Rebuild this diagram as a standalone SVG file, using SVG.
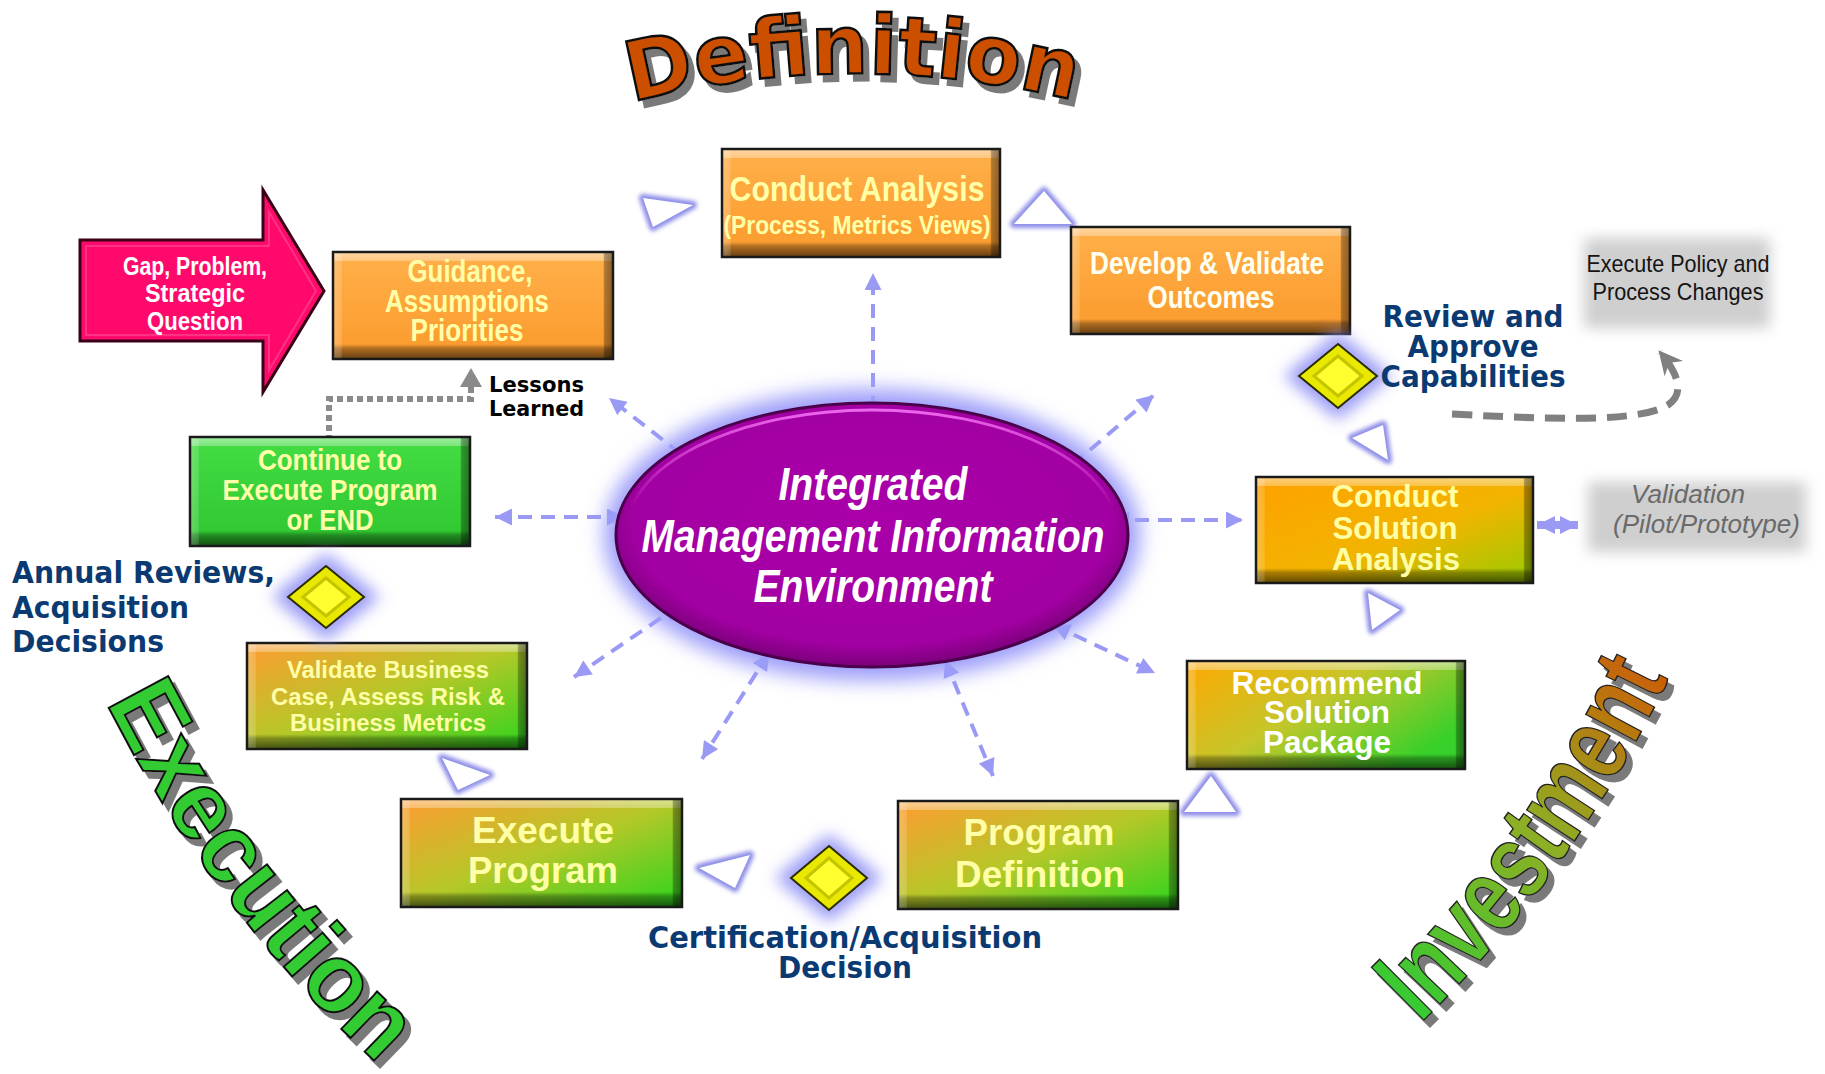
<svg xmlns="http://www.w3.org/2000/svg" xmlns:xlink="http://www.w3.org/1999/xlink" width="1825" height="1074" viewBox="0 0 1825 1074">
<defs>
<style>
.lbl{font-family:"Liberation Sans Narrow","Liberation Sans",Arial,sans-serif;font-weight:bold;text-anchor:middle}
.arl{font-family:"Liberation Sans",Arial,sans-serif;font-weight:bold;text-anchor:middle}
.cream{fill:#ffffa8}
.white{fill:#ffffff}
.navy{font-family:"DejaVu Sans",Verdana,sans-serif;font-weight:bold;fill:#0b3a73}
.edge{fill:none;stroke:#1a1a1a;stroke-width:2.5}
.bv{fill:url(#bevV)}
.bh{fill:url(#bevH)}
.conn{fill:none;stroke:#9a9af5;stroke-width:4;stroke-dasharray:14 9;marker-start:url(#ah);marker-end:url(#ah)}
.triGlow{fill:none;stroke:#8c8ce8;stroke-width:8;stroke-linejoin:round;filter:url(#blur2)}
.triFill{fill:#ffffff}
.dGlow{fill:#9b9bf7;filter:url(#blur8)}
.dOut{fill:#e8e800;stroke:#2a2a00;stroke-width:2}
.dIn{fill:#ffff30;stroke:#c4c400;stroke-width:3}
.grey{fill:#cfcfcf;filter:url(#blur7)}
</style>
<filter id="blur2" x="-50%" y="-50%" width="200%" height="200%"><feGaussianBlur stdDeviation="2"/></filter>
<filter id="blur7" x="-50%" y="-50%" width="200%" height="200%"><feGaussianBlur stdDeviation="7"/></filter>
<filter id="blur8" x="-50%" y="-50%" width="200%" height="200%"><feGaussianBlur stdDeviation="8"/></filter>
<filter id="blur10" x="-50%" y="-50%" width="200%" height="200%"><feGaussianBlur stdDeviation="10"/></filter>
<filter id="shadow" x="-15%" y="-15%" width="140%" height="140%">
<feFlood flood-color="#7a7a7a"/><feComposite in2="SourceAlpha" operator="in"/><feOffset dx="6" dy="7" result="s"/>
<feMerge><feMergeNode in="s"/><feMergeNode in="SourceGraphic"/></feMerge>
</filter>
<linearGradient id="gOrange" x1="0" y1="0" x2="0" y2="1"><stop offset="0" stop-color="#ffb04a"/><stop offset="1" stop-color="#fb9a2c"/></linearGradient>
<linearGradient id="gGreen" x1="0" y1="0" x2="0" y2="1"><stop offset="0" stop-color="#44dd44"/><stop offset="1" stop-color="#2fc62f"/></linearGradient>
<linearGradient id="gMix" x1="0" y1="0" x2="1" y2="1"><stop offset="0" stop-color="#ff9c30"/><stop offset=".5" stop-color="#b4c828"/><stop offset="1" stop-color="#2cd41c"/></linearGradient>
<linearGradient id="gCSA" x1="0" y1="0" x2="1" y2="1"><stop offset="0" stop-color="#ffa000"/><stop offset=".55" stop-color="#f2b400"/><stop offset="1" stop-color="#98cc00"/></linearGradient>
<linearGradient id="gRSP" x1="0" y1="0" x2="1" y2=".6"><stop offset="0" stop-color="#ffa800"/><stop offset=".5" stop-color="#c6c62a"/><stop offset="1" stop-color="#38d02a"/></linearGradient>
<linearGradient id="bevV" x1="0" y1="0" x2="0" y2="1">
<stop offset="0" stop-color="#fff" stop-opacity=".5"/><stop offset=".08" stop-color="#fff" stop-opacity=".3"/><stop offset=".085" stop-color="#fff" stop-opacity="0"/>
<stop offset=".86" stop-color="#000" stop-opacity="0"/><stop offset=".9" stop-color="#000" stop-opacity=".3"/><stop offset="1" stop-color="#000" stop-opacity=".6"/>
</linearGradient>
<linearGradient id="bevH" x1="0" y1="0" x2="1" y2="0">
<stop offset="0" stop-color="#fff" stop-opacity=".25"/><stop offset=".03" stop-color="#fff" stop-opacity=".15"/><stop offset=".032" stop-color="#fff" stop-opacity="0"/>
<stop offset=".965" stop-color="#000" stop-opacity="0"/><stop offset=".97" stop-color="#000" stop-opacity=".3"/><stop offset="1" stop-color="#000" stop-opacity=".45"/>
</linearGradient>
<radialGradient id="gPurple" cx=".5" cy=".45" r=".55"><stop offset="0" stop-color="#aa00aa"/><stop offset=".85" stop-color="#a200a2"/><stop offset="1" stop-color="#7a007a"/></radialGradient>
<linearGradient id="gHl" x1="0" y1="0" x2="0" y2="1"><stop offset="0" stop-color="#ee66ee"/><stop offset=".4" stop-color="#ee66ee" stop-opacity="0"/></linearGradient>
<linearGradient id="gInv" gradientUnits="userSpaceOnUse" x1="1400" y1="1010" x2="1660" y2="640"><stop offset="0" stop-color="#33cc33"/><stop offset=".5" stop-color="#8fae25"/><stop offset="1" stop-color="#d35400"/></linearGradient>
<marker id="ah" viewBox="0 0 10 10" refX="10" refY="5" markerWidth="18" markerHeight="17" markerUnits="userSpaceOnUse" orient="auto-start-reverse"><path d="M0,0 L10,5 L0,10 z" fill="#9a9af5"/></marker>
<marker id="ahv" viewBox="0 0 10 10" refX="10" refY="5" markerWidth="18" markerHeight="26" markerUnits="userSpaceOnUse" orient="auto-start-reverse"><path d="M0,0 L10,5 L0,10 z" fill="#9a9af5"/></marker>
<marker id="ahg" viewBox="0 0 10 10" refX="9" refY="5" markerWidth="26" markerHeight="24" markerUnits="userSpaceOnUse" orient="auto"><path d="M0,0 L10,5 L0,10 L3,5 z" fill="#808080"/></marker>
<path id="arcDef" d="M632,102 A900 900 0 0 1 1080,102"/>
<path id="arcInv" d="M1420,1024 A1234 1234 0 0 0 1668,680"/>
<path id="arcExe" d="M106,702 A1276 1276 0 0 0 382,1068"/>
</defs>
<rect width="1825" height="1074" fill="#ffffff"/>

<!-- Phase titles -->
<g id="title-definition" filter="url(#shadow)">
<text font-family="DejaVu Sans,Verdana,sans-serif" font-weight="bold" font-size="82" fill="#cc5000" stroke="#111" stroke-width="2.5"><textPath xlink:href="#arcDef" textLength="446" lengthAdjust="spacingAndGlyphs">Definition</textPath></text>
</g>
<g id="title-investment" filter="url(#shadow)">
<text font-family="Liberation Sans,Arial,sans-serif" font-weight="bold" font-size="108" fill="url(#gInv)" stroke="#222" stroke-width="1.5"><textPath xlink:href="#arcInv" textLength="428" lengthAdjust="spacingAndGlyphs">Investment</textPath></text>
</g>
<g id="title-execution" filter="url(#shadow)">
<text font-family="Liberation Sans,Arial,sans-serif" font-weight="bold" font-size="98" fill="#33cc33" stroke="#111" stroke-width="2"><textPath xlink:href="#arcExe" textLength="456" lengthAdjust="spacingAndGlyphs">Execution</textPath></text>
</g>

<!-- Connectors -->
<g id="connectors">
<path class="conn" d="M873,433 L873,273"/>
<path class="conn" d="M699,468 L609,398"/>
<path class="conn" d="M1055,480 L1154,395"/>
<path class="conn" d="M624,517 L495,517"/>
<path class="conn" d="M1112,520 L1243,520"/>
<path class="conn" d="M680,605 L574,677"/>
<path class="conn" d="M769,653 L702,759"/>
<path class="conn" d="M945,660 L993,776"/>
<path class="conn" d="M1053,625 L1155,673"/>
<path d="M1537,525 L1578,525" fill="none" stroke="#9a9af5" stroke-width="8" marker-start="url(#ahv)" marker-end="url(#ahv)"/>
<path d="M1452,414 C1560,420 1640,422 1668,405 C1684,394 1680,376 1660,352" fill="none" stroke="#808080" stroke-width="7" stroke-dasharray="20 11" marker-end="url(#ahg)"/>
<path d="M471,387 L471,399 L329,399 L329,437" fill="none" stroke="#8a8a8a" stroke-width="6" stroke-dasharray="6 4"/>
<polygon points="460,387 471,368 482,387" fill="#8a8a8a"/>
<g id="flow-triangles">
<polygon class="triGlow" points="643,198 693,205 653,227"/><polygon class="triFill" points="643,198 693,205 653,227"/>
<polygon class="triGlow" points="1014,224 1044,191 1072,224"/><polygon class="triFill" points="1014,224 1044,191 1072,224"/>
<polygon class="triGlow" points="1352,438 1383,425 1388,460"/><polygon class="triFill" points="1352,438 1383,425 1388,460"/>
<polygon class="triGlow" points="1368,593 1400,610 1372,630"/><polygon class="triFill" points="1368,593 1400,610 1372,630"/>
<polygon class="triGlow" points="1184,812 1211,776 1236,812"/><polygon class="triFill" points="1184,812 1211,776 1236,812"/>
<polygon class="triGlow" points="699,868 750,855 735,888"/><polygon class="triFill" points="699,868 750,855 735,888"/>
<polygon class="triGlow" points="442,758 490,775 458,790"/><polygon class="triFill" points="442,758 490,775 458,790"/>
</g>
</g>

<!-- Central ellipse -->
<g id="n-imie">
<ellipse cx="872" cy="535" rx="268" ry="146" fill="#9d9dfa" filter="url(#blur10)"/>
<ellipse cx="872" cy="535" rx="256" ry="132" fill="url(#gPurple)" stroke="#4a004a" stroke-width="3"/>
<ellipse cx="872" cy="533" rx="246" ry="123" fill="none" stroke="url(#gHl)" stroke-width="3"/>
<g class="lbl" font-style="italic" font-size="47" fill="#ffffff">
<text x="873" y="500" textLength="189" lengthAdjust="spacingAndGlyphs">Integrated</text>
<text x="873" y="552" textLength="463" lengthAdjust="spacingAndGlyphs">Management Information</text>
<text x="873" y="602" textLength="239" lengthAdjust="spacingAndGlyphs">Environment</text>
</g>
</g>

<!-- Gap arrow -->
<g id="n-gap">
<polygon points="80,240 263,240 263,190 324,291 263,392 263,341 80,341" fill="#ff0a6c" stroke="#3a0016" stroke-width="3" stroke-linejoin="miter"/>
<polygon points="86,246 269,246 269,212 316,291 269,370 269,335 86,335" fill="none" stroke="#ff5a9a" stroke-width="2" opacity=".5"/>
<g class="lbl white" font-size="26">
<text x="195" y="275" textLength="144" lengthAdjust="spacingAndGlyphs">Gap, Problem,</text>
<text x="195" y="302" textLength="100" lengthAdjust="spacingAndGlyphs">Strategic</text>
<text x="195" y="330" textLength="96" lengthAdjust="spacingAndGlyphs">Question</text>
</g>
</g>

<!-- Boxes -->
<g id="n-guidance">
<rect x="333" y="252" width="280" height="107" fill="url(#gOrange)"/><rect class="bv" x="333" y="252" width="280" height="107"/><rect class="bh" x="333" y="252" width="280" height="107"/><rect class="edge" x="333" y="252" width="280" height="107"/>
<g class="lbl cream" font-size="31">
<text x="470" y="282" textLength="125" lengthAdjust="spacingAndGlyphs">Guidance,</text>
<text x="467" y="312" textLength="164" lengthAdjust="spacingAndGlyphs">Assumptions</text>
<text x="467" y="341" textLength="113" lengthAdjust="spacingAndGlyphs">Priorities</text>
</g>
</g>

<g id="n-conduct-analysis">
<rect x="722" y="149" width="278" height="108" fill="url(#gOrange)"/><rect class="bv" x="722" y="149" width="278" height="108"/><rect class="bh" x="722" y="149" width="278" height="108"/><rect class="edge" x="722" y="149" width="278" height="108"/>
<g class="lbl cream">
<text x="857" y="201" font-size="35" textLength="255" lengthAdjust="spacingAndGlyphs">Conduct Analysis</text>
<text x="857" y="234" font-size="26" textLength="267" lengthAdjust="spacingAndGlyphs">(Process, Metrics Views)</text>
</g>
</g>

<g id="n-develop">
<rect x="1071" y="227" width="279" height="107" fill="url(#gOrange)"/><rect class="bv" x="1071" y="227" width="279" height="107"/><rect class="bh" x="1071" y="227" width="279" height="107"/><rect class="edge" x="1071" y="227" width="279" height="107"/>
<g class="lbl" fill="#fffff0" font-size="31">
<text x="1207" y="274" textLength="234" lengthAdjust="spacingAndGlyphs">Develop &amp; Validate</text>
<text x="1211" y="308" textLength="127" lengthAdjust="spacingAndGlyphs">Outcomes</text>
</g>
</g>

<g id="n-csa">
<rect x="1256" y="477" width="277" height="106" fill="url(#gCSA)"/><rect class="bv" x="1256" y="477" width="277" height="106"/><rect class="bh" x="1256" y="477" width="277" height="106"/><rect class="edge" x="1256" y="477" width="277" height="106"/>
<g class="arl cream" font-size="31">
<text x="1395" y="507" textLength="127" lengthAdjust="spacingAndGlyphs">Conduct</text>
<text x="1395" y="539" textLength="125" lengthAdjust="spacingAndGlyphs">Solution</text>
<text x="1396" y="570" textLength="128" lengthAdjust="spacingAndGlyphs">Analysis</text>
</g>
</g>

<g id="n-rsp">
<rect x="1187" y="661" width="278" height="108" fill="url(#gRSP)"/><rect class="bv" x="1187" y="661" width="278" height="108"/><rect class="bh" x="1187" y="661" width="278" height="108"/><rect class="edge" x="1187" y="661" width="278" height="108"/>
<g class="arl white" font-size="31">
<text x="1327" y="694" textLength="191" lengthAdjust="spacingAndGlyphs">Recommend</text>
<text x="1327" y="723" textLength="126" lengthAdjust="spacingAndGlyphs">Solution</text>
<text x="1327" y="753" textLength="128" lengthAdjust="spacingAndGlyphs">Package</text>
</g>
</g>

<g id="n-program-definition">
<rect x="898" y="801" width="280" height="108" fill="url(#gMix)"/><rect class="bv" x="898" y="801" width="280" height="108"/><rect class="bh" x="898" y="801" width="280" height="108"/><rect class="edge" x="898" y="801" width="280" height="108"/>
<g class="lbl cream" font-size="37">
<text x="1039" y="845" textLength="151" lengthAdjust="spacingAndGlyphs">Program</text>
<text x="1040" y="887" textLength="170" lengthAdjust="spacingAndGlyphs">Definition</text>
</g>
</g>

<g id="n-execute-program">
<rect x="401" y="799" width="281" height="108" fill="url(#gMix)"/><rect class="bv" x="401" y="799" width="281" height="108"/><rect class="bh" x="401" y="799" width="281" height="108"/><rect class="edge" x="401" y="799" width="281" height="108"/>
<g class="lbl cream" font-size="37">
<text x="543" y="843" textLength="142" lengthAdjust="spacingAndGlyphs">Execute</text>
<text x="543" y="883" textLength="150" lengthAdjust="spacingAndGlyphs">Program</text>
</g>
</g>

<g id="n-validate-business">
<rect x="247" y="643" width="280" height="106" fill="url(#gMix)"/><rect class="bv" x="247" y="643" width="280" height="106"/><rect class="bh" x="247" y="643" width="280" height="106"/><rect class="edge" x="247" y="643" width="280" height="106"/>
<g class="arl cream" font-size="23.5">
<text x="388" y="678" textLength="202" lengthAdjust="spacingAndGlyphs">Validate Business</text>
<text x="388" y="705" textLength="234" lengthAdjust="spacingAndGlyphs">Case, Assess Risk &amp;</text>
<text x="388" y="731" textLength="196" lengthAdjust="spacingAndGlyphs">Business Metrics</text>
</g>
</g>

<g id="n-continue">
<rect x="190" y="437" width="280" height="109" fill="url(#gGreen)"/><rect class="bv" x="190" y="437" width="280" height="109"/><rect class="bh" x="190" y="437" width="280" height="109"/><rect class="edge" x="190" y="437" width="280" height="109"/>
<g class="lbl cream" font-size="30">
<text x="330" y="470" textLength="144" lengthAdjust="spacingAndGlyphs">Continue to</text>
<text x="330" y="500" textLength="215" lengthAdjust="spacingAndGlyphs">Execute Program</text>
<text x="330" y="530" textLength="87" lengthAdjust="spacingAndGlyphs">or END</text>
</g>
</g>

<!-- Side notes -->
<g id="n-execute-policy">
<rect class="grey" x="1584" y="238" width="186" height="90"/>
<g class="lbl" font-size="24" fill="#141414">
<text x="1678" y="272" font-weight="normal" textLength="183" lengthAdjust="spacingAndGlyphs">Execute Policy and</text>
<text x="1678" y="300" font-weight="normal" textLength="171" lengthAdjust="spacingAndGlyphs">Process Changes</text>
</g>
</g>

<g id="n-validation">
<rect class="grey" x="1588" y="482" width="218" height="70"/>
<g font-family="Liberation Sans,Arial,sans-serif" font-style="italic" font-size="25" fill="#6a6a6a">
<text x="1631" y="503" textLength="114" lengthAdjust="spacingAndGlyphs">Validation</text>
<text x="1613" y="533" textLength="187" lengthAdjust="spacingAndGlyphs">(Pilot/Prototype)</text>
</g>
</g>

<g id="n-lessons" font-family="DejaVu Sans,Verdana,sans-serif" font-weight="bold" font-size="21" fill="#000">
<text x="489" y="392" textLength="95" lengthAdjust="spacingAndGlyphs">Lessons</text>
<text x="489" y="416" textLength="95" lengthAdjust="spacingAndGlyphs">Learned</text>
</g>

<!-- Decision diamonds -->
<g id="n-review-diamond">
<polygon class="dGlow" points="1338,332 1392,376 1338,420 1284,376"/>
<polygon class="dOut" points="1338,344 1377,376 1338,408 1299,376"/>
<polygon class="dIn" points="1338,356 1362,376 1338,396 1314,376"/>
</g>
<g id="n-review-label" class="navy" font-size="31" text-anchor="middle">
<text x="1473" y="327" textLength="181" lengthAdjust="spacingAndGlyphs">Review and</text>
<text x="1473" y="357" textLength="131" lengthAdjust="spacingAndGlyphs">Approve</text>
<text x="1473" y="387" textLength="185" lengthAdjust="spacingAndGlyphs">Capabilities</text>
</g>

<g id="n-annual-diamond">
<polygon class="dGlow" points="326,553 380,597 326,641 272,597"/>
<polygon class="dOut" points="326,566 364,597 326,628 288,597"/>
<polygon class="dIn" points="326,578 349,597 326,616 303,597"/>
</g>
<g id="n-annual-label" class="navy" font-size="31">
<text x="12" y="583" textLength="263" lengthAdjust="spacingAndGlyphs">Annual Reviews,</text>
<text x="12" y="618" textLength="177" lengthAdjust="spacingAndGlyphs">Acquisition</text>
<text x="12" y="652" textLength="152" lengthAdjust="spacingAndGlyphs">Decisions</text>
</g>

<g id="n-cert-diamond">
<polygon class="dGlow" points="829,834 883,878 829,922 775,878"/>
<polygon class="dOut" points="829,846 867,878 829,910 791,878"/>
<polygon class="dIn" points="829,858 852,878 829,898 806,878"/>
</g>
<g id="n-cert-label" class="navy" font-size="30" text-anchor="middle">
<text x="845" y="948" textLength="394" lengthAdjust="spacingAndGlyphs">Certification/Acquisition</text>
<text x="845" y="978" textLength="134" lengthAdjust="spacingAndGlyphs">Decision</text>
</g>
</svg>
